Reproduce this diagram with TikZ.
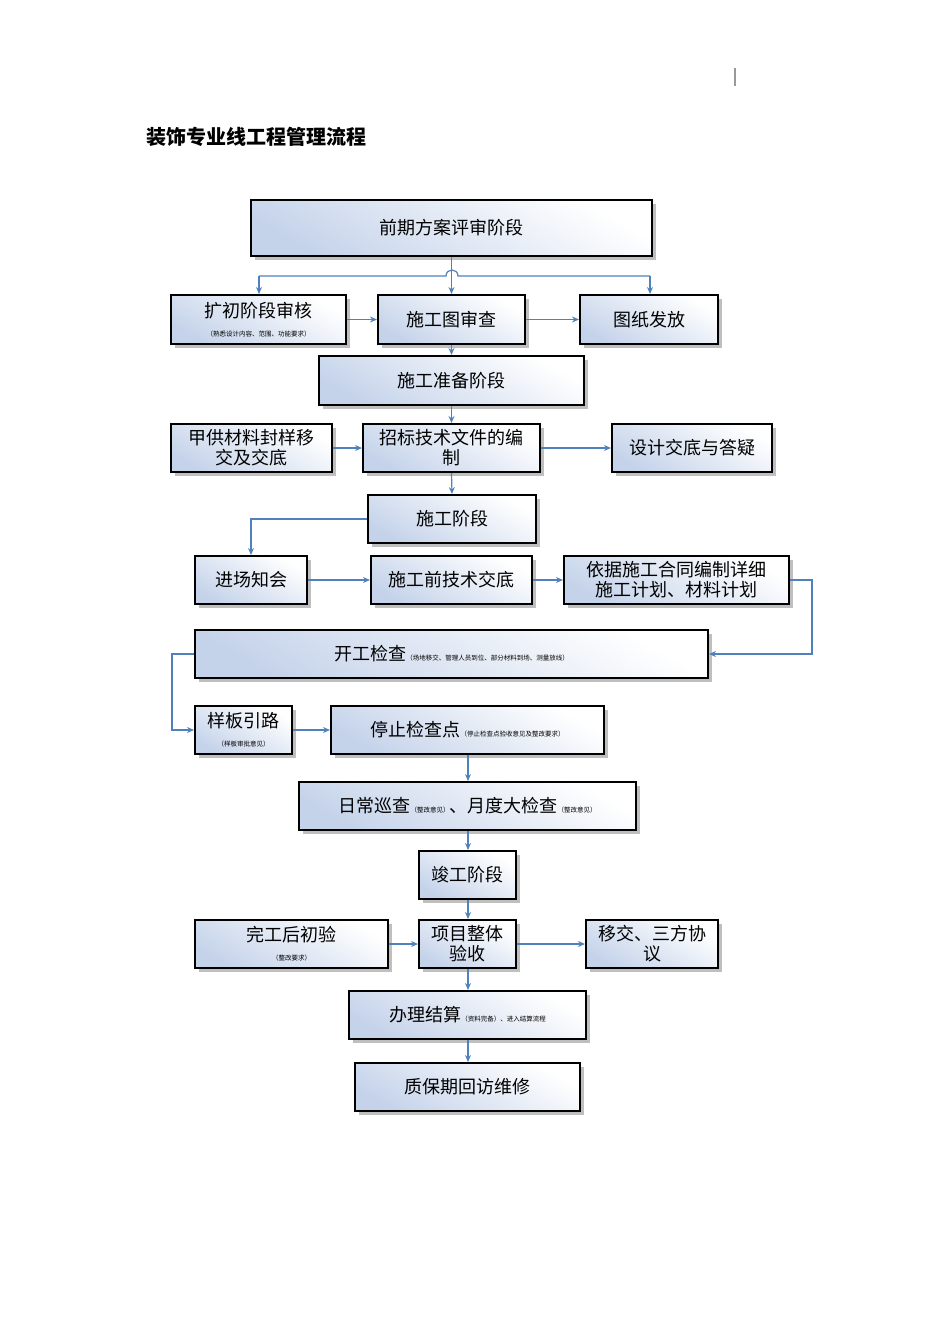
\documentclass[tikz,border=0pt]{standalone}
\usepackage{fontspec}
\setmainfont{Noto Sans CJK SC}
\usetikzlibrary{shadows,arrows.meta}
\definecolor{lnblue}{HTML}{4F81BD}
\definecolor{bxblue}{HTML}{C5D3EA}
\newcommand\sm{\fontsize{6.5}{8}\selectfont}
\newcommand\bx[6]{\node[box, minimum width={(#4-#2)*1pt}, minimum height={(#5-#3)*1pt}] (#1) at ({(#2+#4)/2},{(#3+#5)/2}) {#6};}
\tikzset{
 box/.style={draw=black, line width=2pt, inner sep=1pt, align=center, font=\fontsize{18}{22}\selectfont,
   top color=bxblue, bottom color=white, shading angle=150,
   drop shadow={shadow xshift=4pt, shadow yshift=-4pt, fill=black!25, opacity=1}},
 conn/.style={draw=lnblue, line width=1.2pt, -{Stealth[length=7pt,width=6pt]}},
 ln/.style={draw=lnblue, line width=1.2pt}
}
\begin{document}
\begin{tikzpicture}[x=1pt,y=-1pt]
\useasboundingbox (0,0) rectangle (950,1344);
\node[anchor=west, font=\fontsize{20}{24}\selectfont\bfseries] (title) at (143,137) {装饰专业线工程管理流程};
\draw[black!40, line width=1.2pt] (735,68) -- (735,86);
\bx{A}{251}{200}{652}{256}{前期方案评审阶段}
\bx{B}{171}{295}{346}{344}{扩初阶段审核\\[-3pt]{\sm（熟悉设计内容、范围、功能要求）}}
\bx{C}{378}{295}{525}{344}{施工图审查}
\bx{D}{580}{295}{718}{344}{图纸发放}
\bx{E}{319}{356}{584}{405}{施工准备阶段}
\bx{F}{171}{424}{332}{472}{甲供材料封样移\\[-2pt]交及交底}
\bx{G}{363}{424}{540}{472}{招标技术文件的编\\[-2pt]制}
\bx{H}{612}{424}{772}{472}{设计交底与答疑}
\bx{I}{368}{495}{536}{543}{施工阶段}
\bx{J}{195}{556}{307}{604}{进场知会}
\bx{K}{371}{556}{532}{604}{施工前技术交底}
\bx{L}{564}{556}{789}{604}{依据施工合同编制详细\\[-2pt]施工计划、材料计划}
\bx{M}{195}{630}{708}{678}{开工检查{\sm（场地移交、管理人员到位、部分材料到场、测量放线）}}
\bx{N}{195}{706}{292}{754}{样板引路\\[-3pt]{\sm（样板审批意见）}}
\bx{O}{331}{706}{604}{754}{停止检查点{\sm（停止检查点验收意见及整改要求）}}
\bx{P}{299}{782}{636}{830}{日常巡查{\sm（整改意见）}、月度大检查{\sm（整改意见）}}
\bx{Q}{419}{851}{516}{899}{竣工阶段}
\bx{R}{195}{920}{388}{968}{完工后初验\\[-3pt]{\sm（整改要求）}}
\bx{S}{419}{920}{516}{968}{项目整体\\[-2pt]验收}
\bx{T}{586}{920}{718}{968}{移交、三方协\\[-2pt]议}
\bx{U}{349}{991}{586}{1039}{办理结算{\sm（资料完备）、进入结算流程}}
\bx{V}{355}{1063}{580}{1111}{质保期回访维修}
% top distribution
\coordinate (h1) at (259,276);
\coordinate (h2) at (650,276);
\draw[conn] (A.south) -- (C.north);
\draw[ln] (h1) -- (446,276) .. controls (446,268) and (458,268) .. (458,276) -- (h2);
\draw[conn] (h1) -- (B.north -| h1);
\draw[conn] (h2) -- (D.north -| h2);
\draw[conn] (B) -- (C);
\draw[conn] (C) -- (D);
\draw[conn] (C.south) -- (E.north);
\draw[conn] (E.south) -- (G.north);
\draw[conn] (F) -- (G);
\draw[conn] (G) -- (H);
\draw[conn] (G.south) -- (I.north);
\draw[conn] (I.west) -| (J.north);
\draw[conn] (J) -- (K);
\draw[conn] (K) -- (L);
\draw[conn] (L.east) -- (812,580) |- (M.east);
\draw[conn] (M.west) -- (172,654) |- (N.west);
\draw[conn] (N) -- (O);
\draw[conn] (O.south -| 468,0) -- (P.north -| 468,0);
\draw[conn] (P.south -| 468,0) -- (Q.north -| 468,0);
\draw[conn] (Q.south -| 468,0) -- (S.north -| 468,0);
\draw[conn] (R) -- (S);
\draw[conn] (S) -- (T);
\draw[conn] (S.south -| 468,0) -- (U.north -| 468,0);
\draw[conn] (U.south -| 468,0) -- (V.north -| 468,0);
\end{tikzpicture}
\end{document}
